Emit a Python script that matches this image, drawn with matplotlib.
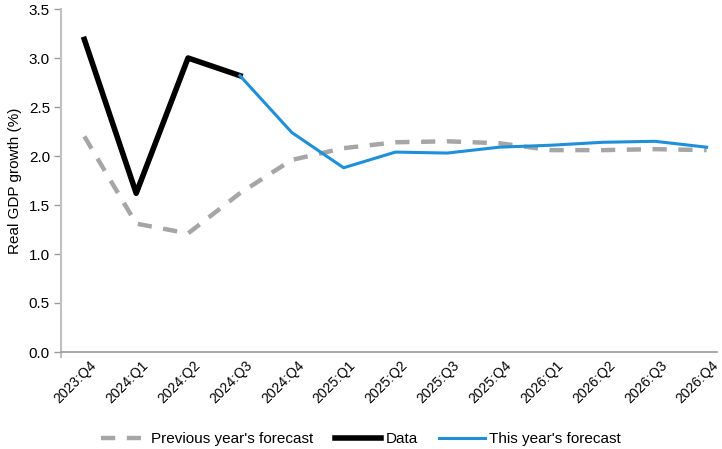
import matplotlib
matplotlib.use("Agg")
import matplotlib.pyplot as plt
import matplotlib.transforms as mtransforms
import numpy as np

plt.rcParams['font.family'] = ['Liberation Sans', 'DejaVu Sans']

quarters = ["2023:Q4", "2024:Q1", "2024:Q2", "2024:Q3", "2024:Q4", "2025:Q1", "2025:Q2",
            "2025:Q3", "2025:Q4", "2026:Q1", "2026:Q2", "2026:Q3", "2026:Q4"]
prev_forecast = [2.20, 1.31, 1.21, 1.62, 1.96, 2.08, 2.14, 2.15, 2.13, 2.06, 2.06, 2.07, 2.06]
data_vals = [3.19, 1.62, 3.00, 2.82]
this_forecast = [2.82, 2.24, 1.88, 2.04, 2.03, 2.09, 2.11, 2.14, 2.15, 2.09]

fig = plt.figure(figsize=(7.22, 4.49), dpi=100)
ax = fig.add_axes([61/722, (449-352)/449, (717-61)/722, (352-9)/449])

x = np.arange(len(quarters))
ax.plot(x, prev_forecast, color='#a6a6a6', lw=3.2, dashes=(3.2, 2.6), solid_capstyle='butt',
        label="Previous year's forecast", zorder=2)
ax.plot(x[:len(data_vals)], data_vals, color='black', lw=4.0, label='Data', zorder=3)
ax.plot(x[3:3+len(this_forecast)], this_forecast, color='#1e8fd8', lw=2.2,
        label="This year's forecast", zorder=4)

ax.set_ylim(0, 3.5)
yt = np.arange(0, 3.51, 0.5)
ax.set_yticks(yt)
ax.set_yticklabels([f"{v:.1f}" for v in yt], fontsize=11)
ax.set_xlim(-0.45, 12.2)
ax.set_xticks(x)
ax.set_xticklabels(quarters, rotation=45, ha='center', va='center', rotation_mode='anchor', fontsize=10)
ax.tick_params(axis='x', length=0, pad=22)
ax.tick_params(axis='y', length=5, color='#999999', width=1, pad=3)
ax.set_ylabel("Real GDP growth (%)", fontsize=11, labelpad=5)

offset = mtransforms.ScaledTranslation(-9/100, 0, fig.dpi_scale_trans)
for lab in ax.get_xticklabels():
    lab.set_transform(lab.get_transform() + offset)

for s in ['top', 'right']:
    ax.spines[s].set_visible(False)
ax.spines['left'].set_color('#c0c0c0')
ax.spines['left'].set_linewidth(1.5)
ax.spines['left'].set_bounds(-0.05, 3.5)
ax.spines['bottom'].set_color('#999999')
ax.spines['bottom'].set_linewidth(1.2)

leg = fig.legend(loc='center', bbox_to_anchor=(0.5, 1 - 439/449), ncol=3, frameon=False,
                 fontsize=11, handlelength=3.0, handletextpad=0.3, columnspacing=1.4)

fig.savefig("out.png", dpi=100)
